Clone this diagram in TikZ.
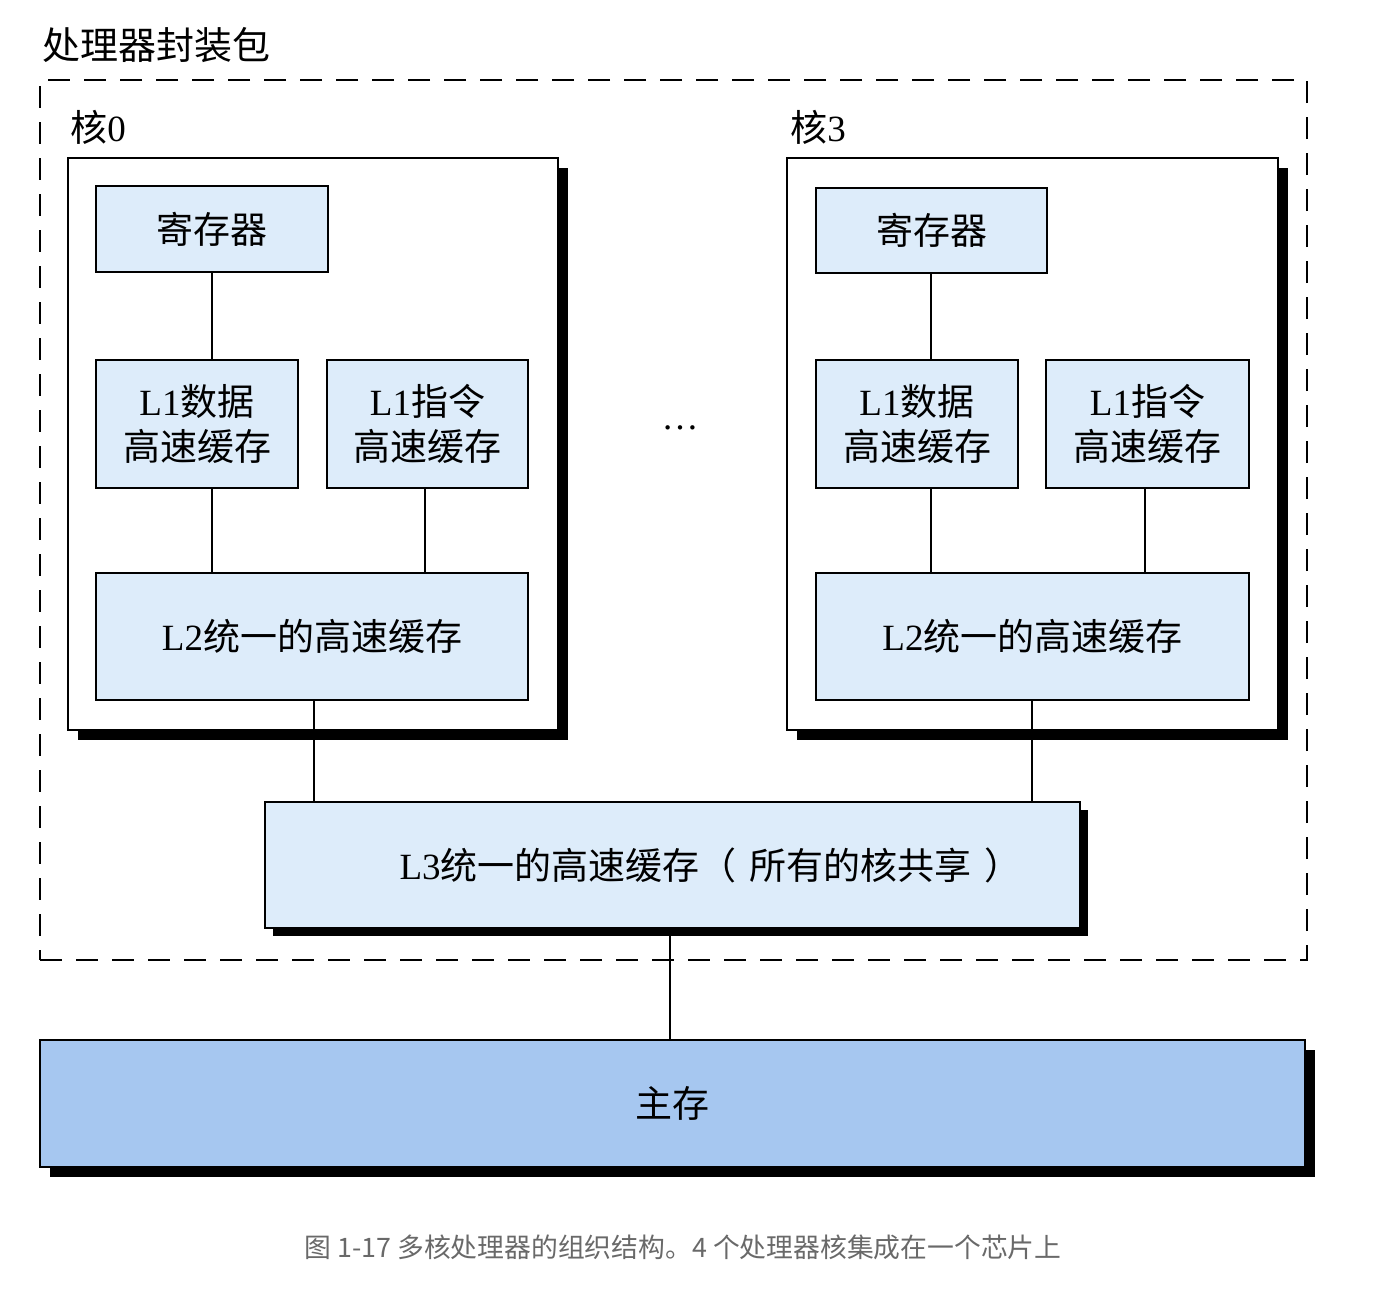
\documentclass[tikz,border=0pt]{standalone}
\usepackage{fontspec}
\setmainfont{Liberation Serif}
\newfontfamily\cjk{Noto Sans CJK SC}
\usetikzlibrary{shadows}
\definecolor{boxfill}{RGB}{221,236,250}
\definecolor{memfill}{RGB}{166,199,240}
\definecolor{capgray}{RGB}{105,105,105}
\begin{document}
\begin{tikzpicture}[x=0.5pt,y=-0.5pt,
  cachebox/.style={draw=black, line width=1pt, fill=boxfill, inner sep=0pt, align=center,
    font=\fontsize{18.5}{22.5}\selectfont},
  corebox/.style={draw=black, line width=1pt, fill=white, inner sep=0pt,
    drop shadow={shadow xshift=5pt, shadow yshift=-5pt, fill=black, opacity=1}},
  bigshadow/.style={drop shadow={shadow xshift=4pt, shadow yshift=-4pt, fill=black, opacity=1}},
  pkgbox/.style={draw=black, line width=1.4pt, dash pattern=on 11pt off 7pt, inner sep=0pt},
  lbl/.style={inner sep=0pt, anchor=west, font=\fontsize{18.5}{22}\selectfont},
  link/.style={draw=black, line width=0.9pt}
]
\useasboundingbox (0,0) rectangle (1382,1290);
\fill[white] (0,0) rectangle (1382,1290);

% title and package
\node[inner sep=0pt, anchor=west, font=\fontsize{19}{22}\selectfont\cjk] (title) at (42,45) {处理器封装包};
\node[pkgbox, minimum width=633.5pt, minimum height=440pt] (pkg) at (673.5,520) {};

% core 0
\node[corebox, minimum width=245pt, minimum height=286pt] (core0) at (313,444) {};
\node[lbl] (core0lbl) at (70,127) {{\cjk 核}0};
\node[cachebox, minimum width=116pt, minimum height=43pt] (reg0) at (212,229) {\cjk 寄存器};
\node[cachebox, minimum width=101pt, minimum height=64pt] (l1d0) at (197,424) {L1{\cjk 数据}\\{\cjk 高速缓存}};
\node[cachebox, minimum width=100.5pt, minimum height=64pt] (l1i0) at (427.5,424) {L1{\cjk 指令}\\{\cjk 高速缓存}};
\node[cachebox, minimum width=216pt, minimum height=63.5pt] (l20) at (312,636.5) {L2{\cjk 统一的高速缓存}};

% core 3
\node[corebox, minimum width=245.5pt, minimum height=286pt] (core3) at (1032.5,444) {};
\node[lbl] (core3lbl) at (790,127) {{\cjk 核}3};
\node[cachebox, minimum width=115.5pt, minimum height=42.5pt] (reg3) at (931.5,230.5) {\cjk 寄存器};
\node[cachebox, minimum width=101pt, minimum height=64pt] (l1d3) at (917,424) {L1{\cjk 数据}\\{\cjk 高速缓存}};
\node[cachebox, minimum width=101.5pt, minimum height=64pt] (l1i3) at (1147.5,424) {L1{\cjk 指令}\\{\cjk 高速缓存}};
\node[cachebox, minimum width=216.5pt, minimum height=63.5pt] (l23) at (1032.5,636.5) {L2{\cjk 统一的高速缓存}};

% dots
\node[inner sep=0pt, font=\fontsize{18.5}{22}\selectfont] (dots) at (680,428) {\ldots};

% L3 and main memory
\node[cachebox, bigshadow, minimum width=407.5pt, minimum height=63pt] (l3) at (672.5,865) {\hspace*{38pt}L3{\cjk 统一的高速缓存（\hspace{0.35em}所有的核共享\hspace{0.35em}）}};
\node[cachebox, fill=memfill, drop shadow={shadow xshift=5pt, shadow yshift=-5pt, fill=black, opacity=1}, minimum width=632.5pt, minimum height=63.5pt] (mem) at (672.5,1103.5) {\cjk 主存};

% connectors
\coordinate (c0a) at (212,0);
\coordinate (c0b) at (425,0);
\coordinate (c0c) at (314,0);
\coordinate (c3a) at (931,0);
\coordinate (c3b) at (1145,0);
\coordinate (c3c) at (1032,0);
\coordinate (cm) at (670,0);
\draw[link] (reg0.south -| c0a) -- (l1d0.north -| c0a);
\draw[link] (l1d0.south -| c0a) -- (l20.north -| c0a);
\draw[link] (l1i0.south -| c0b) -- (l20.north -| c0b);
\draw[link] (l20.south -| c0c) -- (l3.north -| c0c);
\draw[link] (reg3.south -| c3a) -- (l1d3.north -| c3a);
\draw[link] (l1d3.south -| c3a) -- (l23.north -| c3a);
\draw[link] (l1i3.south -| c3b) -- (l23.north -| c3b);
\draw[link] (l23.south -| c3c) -- (l3.north -| c3c);
\draw[link] (l3.south -| cm) -- (mem.north -| cm);

% caption
\node[inner sep=0pt, text=capgray, font=\fontsize{13.4}{16}\selectfont\cjk] (caption) at (683,1247) {图 1-17 多核处理器的组织结构。4 个处理器核集成在一个芯片上};
\end{tikzpicture}
\end{document}
